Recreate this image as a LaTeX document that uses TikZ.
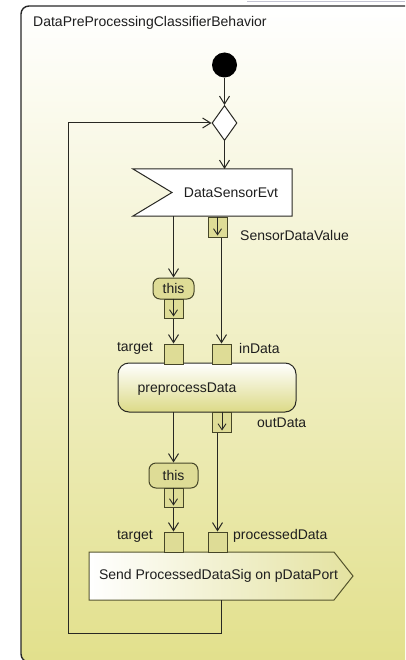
\documentclass[tikz,border=0pt]{standalone}
\usepackage{fontspec}
\setmainfont{Liberation Sans}
\usetikzlibrary{arrows.meta,calc,shapes.geometric}

\definecolor{framebot}{RGB}{226,224,140}
\definecolor{framedge}{RGB}{40,40,40}
\definecolor{edgecol}{RGB}{40,40,35}
\definecolor{pinedge}{RGB}{70,70,40}
\definecolor{pinfill}{RGB}{222,220,150}
\definecolor{actbot}{RGB}{220,218,135}
\definecolor{sendright}{RGB}{228,226,160}
\definecolor{sendedge}{RGB}{85,85,45}
\definecolor{txt}{RGB}{30,30,30}
\definecolor{chrome}{RGB}{195,195,210}

\begin{document}
\begin{tikzpicture}[x=1pt,y=-1pt,
  font=\fontsize{14}{16}\selectfont, text=txt,
  tip/.style={-{Straight Barb[length=8pt,width=10pt,line width=1pt]}},
  flow/.style={draw=edgecol, line width=1pt, tip},
  pinbox/.style={draw=pinedge, fill=pinfill, line width=1pt,
    minimum width=19pt, minimum height=20pt, inner sep=0pt},
  pinarrow/.style={draw=edgecol, line width=0.9pt,
    -{Straight Barb[length=6pt,width=8pt,line width=0.9pt]}},
  thisbox/.style={draw=pinedge, fill=pinfill, line width=1pt,
    rounded corners=7pt, inner sep=0pt},
  plainbox/.style={inner sep=0pt, outer sep=0pt},
  lbl/.style={inner sep=0pt}]

\useasboundingbox (0,0) rectangle (405,660);

% activity frame
\begin{scope}
  \clip (0,0) rectangle (405,660);
  \draw[draw=chrome, line width=1pt] (247,2) -- (405,2);
  \draw[draw=framedge, line width=1.4pt, rounded corners=8pt,
        top color=white, bottom color=framebot] (21,6) rectangle (430,662);
\end{scope}
\node[lbl, anchor=west] (title) at (33,23) {DataPreProcessingClassifierBehavior};

% initial node and merge
\node[circle, fill=black, minimum size=25pt, inner sep=0pt] (init) at (224.5,65) {};
\node[diamond, draw=edgecol, fill=white, line width=1pt, minimum width=25pt,
      minimum height=35pt, inner sep=0pt] (merge) at (224.5,123) {};

% accept event action
\node[plainbox, minimum width=159pt, minimum height=47pt] (evt) at (212.5,192.5) {};
\draw[draw=edgecol, fill=white, line width=1pt]
  (evt.north west) -- (evt.north east) -- (evt.south east) -- (evt.south west)
  -- ([xshift=39pt]evt.west) -- cycle;
\node[lbl] (evttext) at (231,193) {DataSensorEvt};

% output pin of the event
\node[pinbox] (sdv) at (217.5,227) {};
\draw[pinarrow] (sdv.north) -- ([yshift=2pt]sdv.south);
\node[lbl, anchor=west] (sdvlbl) at (240,235) {SensorDataValue};

% first "this" with its pin
\node[thisbox, minimum width=41pt, minimum height=21pt] (this1) at (173.5,288.5) {this};
\node[pinbox, minimum height=19pt] (this1pin) at (173.5,308.5) {};
\draw[pinarrow] (this1pin.north) -- ([yshift=2pt]this1pin.south);

% preprocessData call
\node[plainbox, draw=edgecol, line width=1pt, rounded corners=11pt,
      top color=white, bottom color=actbot,
      minimum width=178pt, minimum height=49pt] (pre) at (207,387.5) {};
\node[lbl] (pretext) at (187,389) {preprocessData};

\node[pinbox] (target1) at (173.5,354) {};
\node[lbl, anchor=east] (target1lbl) at (153,348) {target};
\node[pinbox] (indata) at (221.5,354) {};
\node[lbl, anchor=west] (indatalbl) at (239,348) {inData};

\node[pinbox] (outdata) at (222,422) {};
\draw[pinarrow] (outdata.north) -- ([yshift=2pt]outdata.south);
\node[lbl, anchor=west] (outdatalbl) at (257,423) {outData};

% second "this" with its pin
\node[thisbox, minimum width=49pt, minimum height=25pt] (this2) at (173.5,475.5) {this};
\node[pinbox, minimum height=19pt] (this2pin) at (173.5,497.5) {};
\draw[pinarrow] (this2pin.north) -- ([yshift=2pt]this2pin.south);

% send signal action
\node[plainbox, minimum width=264pt, minimum height=48pt] (send) at (221,576) {};
\draw[draw=sendedge, line width=1pt, left color=white, right color=sendright]
  (send.north west) -- ([xshift=-19pt]send.north east) -- (send.east)
  -- ([xshift=-19pt]send.south east) -- (send.south west) -- cycle;
\node[lbl] (sendtext) at (218.5,576) {Send ProcessedDataSig on pDataPort};

\node[pinbox] (target2) at (173.5,542) {};
\node[lbl, anchor=east] (target2lbl) at (153,536) {target};
\node[pinbox] (procdata) at (217.5,542) {};
\node[lbl, anchor=west] (procdatalbl) at (233,536) {processedData};

% control and object flows
\draw[flow] (init) -- (merge.north);
\draw[flow] (merge.south) -- (evt.north -| merge.south);
\draw[flow] (evt.south -| this1.north) -- (this1.north);
\draw[flow] (this1pin.south) -- (target1.north);
\draw[flow] ([xshift=4pt]sdv.south) -- (indata.north);
\draw[flow] (pre.south -| this2.north) -- (this2.north);
\draw[flow] (this2pin.south) -- (target2.north);
\draw[flow] (outdata.south -| procdata.north) -- (procdata.north);
\coordinate (loopcorner) at (68,633);
\draw[flow] (send.south) |- (loopcorner) |- (merge.west);

\end{tikzpicture}
\end{document}
